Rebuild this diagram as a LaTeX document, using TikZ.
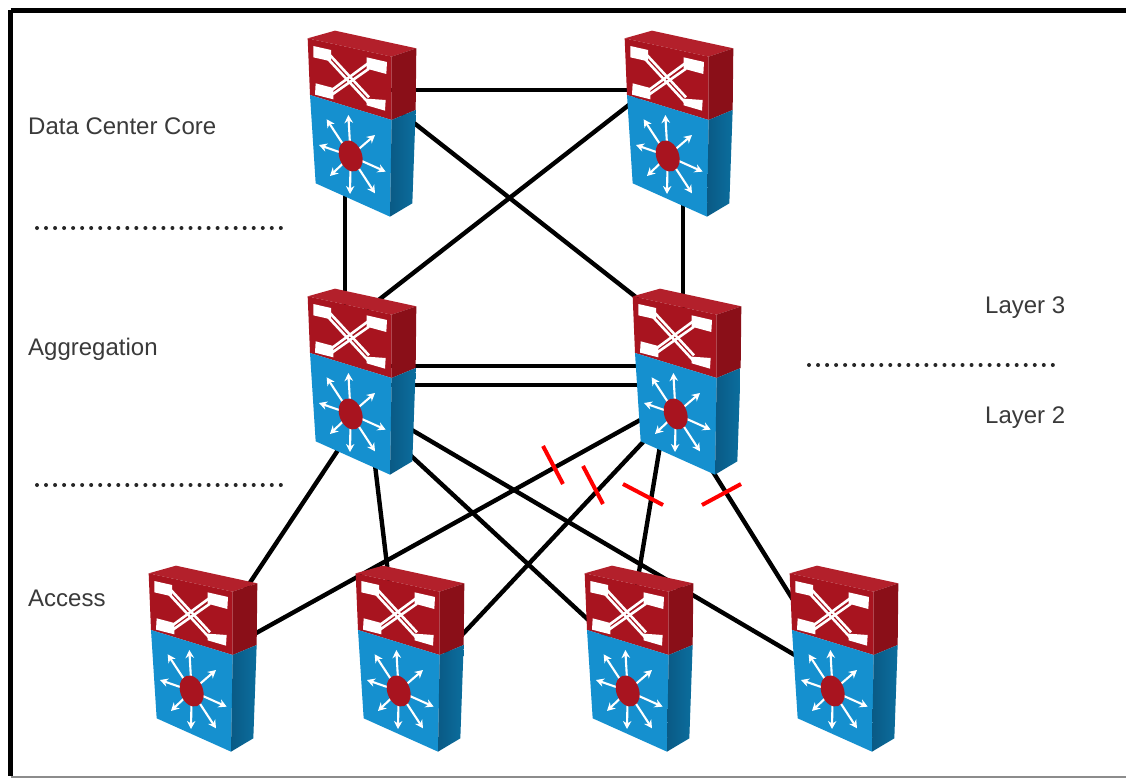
\documentclass[tikz,border=0pt]{standalone}
\usepackage{fontspec}
\setmainfont{Liberation Sans}
\usetikzlibrary{arrows.meta}
\definecolor{redfront}{HTML}{A8141F}
\definecolor{redtop}{HTML}{B3202B}
\definecolor{redside}{HTML}{8A0F18}
\definecolor{bluefront}{HTML}{1590CF}
\definecolor{blueside}{HTML}{0B6E9E}
\definecolor{bluedark}{HTML}{0A5A85}
\definecolor{labelgray}{HTML}{3A3A3A}
\tikzset{
  x=1pt,y=-1pt,
  slot/.style={minimum width=109pt,minimum height=187pt,inner sep=0pt,outer sep=0pt,anchor=north west},
  link/.style={draw=black,line width=4.4pt},
  cutmark/.style={draw=red,line width=4pt},
  divider/.style={draw=black!85,line width=4pt,line cap=round,dash pattern=on 0pt off 9.03pt},
  lbl/.style={font=\fontsize{24}{26}\selectfont,text=labelgray,inner sep=0pt,anchor=west},
  flow/.style={draw=white,line width=2.1pt,-{Stealth[length=8pt,width=8.5pt]}},
  bar/.style={fill=white,draw=none},
  cross/.style={draw=white,line width=2.6pt},
  pics/device/.style={code={
    \begin{scope}[x=0.3333pt,y=-0.3333pt,shift={(-39,-30)}]
      \fill[redtop] (38,55) -- (120,32) -- (364,85) -- (290,110) -- cycle;
      \fill[redfront] (38,55) -- (290,110) -- (290,300) -- (45,225) -- cycle;
      \fill[redside] (290,110) -- (364,85) -- (362,270) -- (290,300) -- cycle;
      \fill[bluefront] (45,225) -- (290,300) -- (285,590) -- (62,490) -- cycle;
      \shade[left color=bluedark,right color=blueside] (290,300) -- (362,270) -- (352,550) -- (285,590) -- cycle;
      \draw[cross] (100,100) -- (222,232);
      \draw[cross] (222,128) -- (108,212);
      \draw[cross] (100,118) -- (222,250);
      \draw[cross] (222,146) -- (108,226);
      \fill[bar] (55,78) -- (108,90) -- (108,124) -- (55,112) -- cycle;
      \fill[bar] (215,112) -- (276,126) -- (274,162) -- (215,146) -- cycle;
      \fill[bar] (62,190) -- (115,204) -- (115,238) -- (60,224) -- cycle;
      \fill[bar] (215,236) -- (272,240) -- (270,272) -- (215,256) -- cycle;
      \foreach \tipx/\tipy in {160/285,95/298,240/345,72/375,272/455,105/468,165/522,240/520}
        \draw[flow] (167,408) -- (\tipx,\tipy);
      \fill[redfront,rotate around={20:(167,408)}] (167,408) ellipse [x radius=34,y radius=48];
    \end{scope}
  }},
}
\newcommand{\lnk}[4]{\draw[link] ([shift={(#2)}]#1.north west) -- ([shift={(#4)}]#3.north west);}
\begin{document}
\begin{tikzpicture}
\useasboundingbox (0,0) rectangle (1126,778);
\fill[white] (0,0) rectangle (1126,778);
\draw[black,line width=4.5pt] (10.5,10.5) -- (1126,10.5);
\draw[black,line width=4.5pt] (10.5,10.5) -- (10.5,776);
\draw[black!45,line width=1.6pt] (10.5,777) -- (1126,777);

\node[slot] (core1) at (308,30) {};
\node[slot] (core2) at (625,30) {};
\node[slot] (agg1) at (308,288) {};
\node[slot] (agg2) at (633,288) {};
\node[slot] (acc1) at (149,565) {};
\node[slot] (acc2) at (356,565) {};
\node[slot] (acc3) at (585,565) {};
\node[slot] (acc4) at (790,565) {};

\lnk{core1}{80,60}{core2}{15,60}
\lnk{core1}{37,150}{agg1}{37,30}
\lnk{core2}{58,150}{agg2}{50,30}
\lnk{core1}{92,82}{agg2}{27,28}
\lnk{core2}{25,58.5}{agg1}{52,26.5}
\lnk{agg1}{80,78}{agg2}{20,78}
\lnk{agg1}{80,97}{agg2}{20,97}
\lnk{agg1}{42,144}{acc1}{91,32.6}
\lnk{agg1}{64,152}{acc2}{34,25}
\lnk{agg1}{92,135}{acc4}{20,99}
\lnk{agg1}{87,153}{acc3}{25,75}
\lnk{agg2}{27,121}{acc1}{91,77}
\lnk{agg2}{27,136}{acc2}{89,88}
\lnk{agg2}{28,152}{acc3}{51,25}
\lnk{agg2}{67,163}{acc4}{10,46}

\foreach \n in {core1,core2,agg1,agg2,acc1,acc2,acc3,acc4}
  \pic at (\n.north west) {device};

\draw[cutmark] (543,446) -- (563,484);
\draw[cutmark] (583,466) -- (603,504);
\draw[cutmark] (623,484) -- (663,505);
\draw[cutmark] (702,505) -- (741,484);

\draw[divider] (37,228) -- (289,228);
\draw[divider] (37,485) -- (289,485);
\draw[divider] (809,365) -- (1061,365);

\node[lbl] (t1) at (28,126) {Data Center Core};
\node[lbl] (t2) at (28,349) {Aggregation};
\node[lbl] (t3) at (28,598) {Access};
\node[lbl] (t4) at (985,308) {Layer 3};
\node[lbl] (t5) at (985,418) {Layer 2};
\end{tikzpicture}
\end{document}
